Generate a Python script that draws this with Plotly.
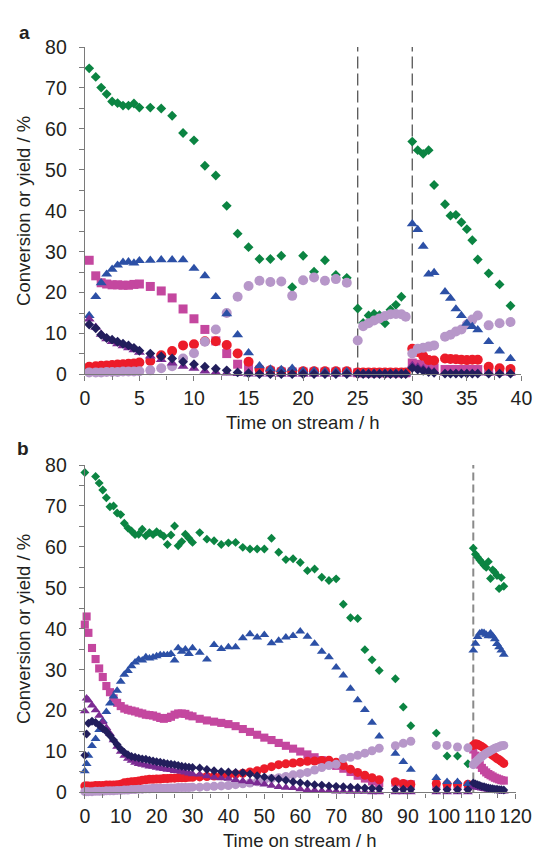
import plotly.graph_objects as go

W, H = 548, 859

# ---------------- panel a : run with two interruptions ----------------
time_a = [0.4, 1, 1.5, 2, 2.5, 3, 3.5, 4, 4.5, 5,
          6, 7, 8, 9, 10, 11, 12, 13, 14, 15, 16, 17, 18, 19, 20, 21, 22, 23, 24,
          25, 25.5, 26, 26.5, 27, 27.5, 28, 28.5, 29, 29.4,
          30, 30.5, 31, 31.5, 32, 33, 33.5, 34, 34.5, 35, 35.5, 36, 37, 38, 39]

conversion_a = [74.8, 72.7, 70.1, 68.5, 66.7, 66.3, 65.7, 65.7, 66.2, 65.2,
                65.2, 65.0, 63.2, 59.0, 57.2, 51.0, 48.6, 41.2, 34.4, 31.1, 28.2, 28.2, 29.0, 21.3, 29.0, 25.1, 27.9, 24.3, 23.6,
                16.1, 12.6, 14.4, 14.8, 14.5, 12.5, 15.8, 17.0, 19.0, None,
                56.9, 54.8, 53.9, 54.8, 46.3, 41.6, 38.8, 39.0, 37.2, 35.5, 32.8, 28.1, 24.7, 22.0, 16.8]

blue_a = [14.4, 19.0, 22.4, 24.5, 25.7, 26.7, 27.4, 27.5, 27.2, 27.8,
          27.9, 28.0, 28.0, 28.0, 25.9, 24.1, 19.0, 14.8, 9.7, 5.3, 2.1, 1.3, 1.2, 1.5, 0.8, 0.8, 0.7, 0.7, 0.7,
          0.3, 0.3, 0.3, 0.3, 0.3, 0.3, 0.3, 0.3, 0.3, 0.3,
          36.8, 35.4, 31.3, 24.5, 24.9, 20.2, 18.6, 16.0, 14.4, 12.5, 11.7, 10.9, 8.0, 5.7, 3.9]

magenta_a = [27.9, 24.1, 22.4, 22.1, 21.9, 21.9, 21.8, 21.8, 22.0, 22.1,
             21.5, 20.4, 18.7, 16.0, 13.6, 11.0, 8.2, 5.1, 2.5, 1.5, 1.0, 0.8, 0.6, 0.6, 0.6, 0.6, 0.6, 0.6, 0.6,
             0.4, 0.4, 0.4, 0.4, 0.4, 0.4, 0.4, 0.4, 0.4, 0.4,
             2.8, 2.5, 2.2, 2.0, 1.6, 1.2, 1.2, 1.2, 1.2, 1.2, 1.2, 1.2, 0.8, 0.8, 0.8]

red_a = [1.9, 2.0, 2.1, 2.2, 2.3, 2.4, 2.5, 2.6, 2.7, 2.9,
         3.3, 4.7, 5.7, 7.1, 7.4, 8.1, 8.1, 7.2, 5.1, 3.1, 1.3, 1.0, 0.8, 0.8, 0.8, 0.8, 0.8, 0.8, 0.8,
         0.5, 0.5, 0.5, 0.5, 0.5, 0.5, 0.5, 0.5, 0.5, 0.5,
         6.3, 5.5, 4.5, 3.5, 3.4, 3.9, 3.8, 3.7, 3.6, 3.5, 3.6, 3.6, 1.9, 1.5, 1.3]

lilac_a = [0.5, 0.5, 0.5, 0.6, 0.6, 0.6, 0.7, 0.7, 0.7, 0.8,
           1.0, 1.5, 2.0, 3.9, 5.2, 8.0, 11.0, 15.0, 19.0, 21.6, 22.9, 22.6, 22.7, 19.2, 23.0, 23.7, 22.9, 23.3, 22.4,
           8.3, 11.8, 12.5, 13.2, 13.7, 14.3, 14.7, 14.8, 14.7, 14.1,
           5.1, 6.3, 6.5, 6.8, 7.1, 9.2, 9.7, 10.5, 11.0, 12.2, 13.4, 14.4, 12.0, 12.5, 12.8]

navy_a = [12.2, 11.3, 9.7, 8.9, 8.5, 8.0, 7.5, 7.1, 6.5, 5.8,
          5.1, 4.4, 3.9, 3.1, 2.5, 1.9, 1.4, 1.0, 0.5, 0.3, 0.1, 0.1, 0.1, 0.1, 0.1, 0.1, 0.1, 0.1, 0.1,
          0.1, 0.1, 0.1, 0.1, 0.1, 0.1, 0.1, 0.1, 0.1, 0.1,
          1.6, 1.2, 0.9, 0.6, 0.4, 0.2, 0.2, 0.2, 0.2, 0.2, 0.2, 0.2, 0.2, 0.2, 0.2]

purple_a = [13.5, 11.5, 9.8, 8.7, 8.0, 7.5, 7.0, 6.5, 6.0, 5.4,
            4.5, 3.6, 2.8, 2.0, 1.5, 0.8, 0.5, 0.3, 0.2, 0.1, 0.1, 0.1, 0.1, 0.1, 0.1, 0.1, 0.1, 0.1, 0.1,
            0.1, 0.1, 0.1, 0.1, 0.1, 0.1, 0.1, 0.1, 0.1, 0.1,
            2.2, 1.8, 1.4, 1.0, 0.7, 0.3, 0.3, 0.3, 0.3, 0.3, 0.3, 0.3, 0.3, 0.3, 0.3]

events_a = [25, 30]

# ---------------- panel b : long run with one interruption ----------------
time_b = [0, 0.5, 1, 2, 3, 4, 5, 6, 7, 8, 9, 10, 11, 12, 13, 14, 15, 16, 17, 18, 19, 20,
          21, 22, 23, 24, 25, 26, 27, 28, 29, 30,
          32, 34, 36, 38, 40, 42, 44, 46, 48, 50, 52, 54, 56, 58, 60, 62, 64, 66, 68, 70,
          72, 74, 76, 78, 80, 82,
          86.5, 88.7, 90.8,
          97.9, 100.9, 103.8, 106.7,
          108.2, 108.8, 109.4, 110.0, 110.6, 111.2, 111.8, 112.4, 113.0, 113.6, 114.2, 114.8, 115.4, 116.0, 116.7]

conversion_b = [78.2, None, None, None, 77.2, 75.6, 73.9, 72.0, 69.8, 70.0, 68.3, 67.9, 65.8, 64.6, 63.9, 63.0,
                63.1, 64.3, 62.7, 63.5, 63.0, 63.7, 63.2, 62.6, 60.6, 62.9, 65.1, 60.3, 61.3, 63.1, 62.1, 61.1,
                63.5, 61.9, 61.5, 60.6, 61.0, 61.1, 59.9, 59.5, 59.5, 59.5, 62.1, 58.7, 56.9, 57.1, 56.2, 54.2,
                54.6, 52.6, 51.8, 52.2, 46.0, 42.7, 42.5, 34.9, 32.4, 29.8,
                27.8, 20.9, 16.3,
                14.5, 8.9, 8.9, 7.0,
                59.7, 58.2, 57.5, 56.8, 56.2, 55.5, 55.0, 56.4, 52.3, 54.4, 53.8, 53.0, 49.8, 52.5, 50.4]

blue_b = [5.2, 7.0, 9.0, 11.4, 13.1, 15.3, 17.5, 19.7, 21.8, 23.5, 24.9, 27.1, 28.8, 29.7, 30.9, 31.8,
          32.5, 32.3, 33.1, 32.8, 33.0, 33.3, 33.6, 33.6, 33.6, 33.9, 32.3, 35.3, 34.4, 35.0, 33.9, 35.3,
          34.2, 32.5, 36.1, 35.1, 35.5, 35.5, 37.7, 38.7, 37.9, 38.5, 36.5, 37.1, 37.9, 38.3, 39.4, 38.1,
          36.4, 34.4, 33.1, 30.6, 28.6, 25.4, 22.6, 20.2, 17.1, 13.7,
          9.5, 7.5, 5.6,
          3.6, 2.6, 2.6, 2.1,
          34.7, 36.4, 38.0, 38.9, 39.1, 39.0, 38.6, 38.2, 38.9, 38.2, 37.5, 36.3, 35.5, 34.7, 33.7]

magenta_b = [41.0, 43.0, 39.0, 35.3, 32.6, 30.3, 28.2, 26.0, 24.5, 23.0, 21.9, 21.1, 20.5, 20.2, 20.0, 19.8,
             19.5, 19.3, 19.0, 18.9, 18.8, 18.5, 18.2, 18.0, 18.2, 18.5, 19.0, 19.3, 19.3, 19.2, 18.8, 18.6,
             18.0, 17.6, 17.3, 17.0, 16.7, 16.2, 15.5, 14.8, 14.1, 13.4, 12.8, 12.1, 11.4, 10.7, 10.0, 9.3,
             8.6, 7.9, 7.2, 6.5, 5.8, 5.0, 4.1, 3.4, 2.7, 2.3,
             2.4, 2.1, 2.0,
             1.6, 1.5, 1.5, 1.5,
             10.5, 9.0, 7.8, 6.8, 6.0, 5.4, 4.9, 4.5, 4.2, 3.9, 3.6, 3.4, 3.2, 3.0, 2.9]

red_b = [1.6, 1.6, 1.6, 1.6, 1.7, 1.7, 1.7, 1.8, 1.8, 1.8, 1.9, 2.0, 2.4, 2.5, 2.6, 2.7,
         2.8, 3.0, 3.1, 3.2, 3.2, 3.3, 3.3, 3.4, 3.4, 3.5, 3.5, 3.6, 3.6, 3.6, 3.7, 3.7,
         3.8, 3.9, 4.0, 4.1, 4.3, 4.5, 4.7, 5.0, 5.3, 5.8, 6.3, 6.8, 7.0, 7.2, 7.4, 7.6,
         7.7, 7.8, 7.9, 7.4, 6.6, 5.7, 4.9, 4.2, 3.6, 3.1,
         2.6, 2.2, 2.0,
         2.2, 2.0, 2.0, 2.0,
         11.5, 11.9, 11.8, 11.5, 11.2, 10.8, 10.3, 9.9, 9.5, 9.1, 8.7, 8.3, 8.0, 7.6, 7.1]

lilac_b = [0.2, 0.2, 0.2, 0.2, 0.3, 0.3, 0.3, 0.4, 0.4, 0.4, 0.5, 0.5, 0.6, 0.6, 0.7, 0.7,
           0.8, 0.8, 0.9, 0.9, 1.0, 1.0, 1.0, 1.0, 1.1, 1.1, 1.1, 1.2, 1.2, 1.2, 1.2, 1.3,
           1.3, 1.4, 1.5, 1.6, 1.7, 1.9, 2.1, 2.3, 2.6, 3.0, 3.4, 3.6, 3.9, 4.3, 4.6, 4.9,
           5.5, 6.1, 6.6, 6.9, 8.3, 8.6, 9.1, 9.6, 10.2, 10.8,
           11.4, 12.0, 12.5,
           11.5, 11.5, 11.1, 10.9,
           6.8, 7.4, 7.9, 8.4, 8.8, 9.2, 9.6, 9.9, 10.2, 10.5, 10.8, 11.0, 11.2, 11.4, 11.5]

navy_b = [9.1, 14.3, 16.9, 17.4, 17.1, 16.4, 15.6, 14.9, 13.9, 12.8, 11.7, 10.6, 9.8, 9.2, 8.8, 8.6,
          8.4, 8.2, 8.1, 7.9, 7.7, 7.5, 7.4, 7.2, 7.0, 6.9, 6.8, 6.6, 6.4, 6.3, 6.2, 6.1,
          6.0, 5.6, 5.3, 5.1, 5.0, 4.9, 4.8, 4.5, 4.1, 3.8, 3.5, 3.3, 3.0, 2.6, 2.4, 2.1,
          1.9, 1.8, 1.6, 1.5, 1.4, 1.3, 1.2, 1.1, 1.0, 0.9,
          0.8, 0.8, 0.8,
          0.7, 0.7, 0.7, 0.7,
          2.3, 2.1, 1.9, 1.7, 1.5, 1.4, 1.2, 1.1, 1.0, 0.9, 0.8, 0.8, 0.7, 0.7, 0.6]

purple_b = [19.9, 23.0, 22.5, 21.3, 20.1, 18.8, 17.2, 15.8, 14.4, 12.8, 11.2, 10.0, 9.0, 8.3, 7.8, 7.3,
            7.0, 6.8, 6.6, 6.4, 6.3, 6.1, 5.9, 5.8, 5.6, 5.5, 5.3, 5.2, 5.1, 4.9, 4.7, 4.5,
            4.4, 4.0, 3.7, 3.5, 3.4, 3.1, 2.8, 2.6, 2.3, 2.0, 1.7, 1.4, 1.2, 1.1, 0.8, 0.6,
            0.5, 0.4, 0.4, 0.3, 0.3, 0.2, 0.2, 0.2, 0.1, 0.1,
            0.1, 0.1, 0.1,
            0.1, 0.1, 0.1, 0.1,
            1.6, 1.4, 1.2, 1.1, 1.0, 0.9, 0.8, 0.7, 0.6, 0.5, 0.5, 0.4, 0.4, 0.3, 0.3]

events_b = [108.2]

# ---------------- styling ----------------
FONT = "Liberation Sans, Arial, Helvetica, sans-serif"
TEXT = "#231f20"
AXIS = "#7a7a7a"

# drawing order: later entries sit on top
styles = [
    ("conversion", "diamond", "#0b8442", 7.6),
    ("magenta", "square", "#c4479f", 9),
    ("red", "circle", "#ec1c2a", 10),
    ("lilac", "circle", "#b797c9", 10),
    ("blue", "triangle-up", "#2c50a6", 9.6),
    ("purple", "triangle-up", "#7b2b93", 9.6),
    ("navy", "diamond", "#221e5c", 7.6),
]

panel_a = {"conversion": conversion_a, "magenta": magenta_a, "red": red_a, "lilac": lilac_a,
           "blue": blue_a, "purple": purple_a, "navy": navy_a}
panel_b = {"conversion": conversion_b, "magenta": magenta_b, "red": red_b, "lilac": lilac_b,
           "blue": blue_b, "purple": purple_b, "navy": navy_b}

fig = go.Figure()

for name, symbol, color, size in styles:
    fig.add_trace(go.Scatter(
        x=time_a, y=panel_a[name], mode="markers", name=name, xaxis="x", yaxis="y",
        cliponaxis=False, showlegend=False,
        marker=dict(symbol=symbol, color=color, size=size, line=dict(width=0))))
for name, symbol, color, size in styles:
    fig.add_trace(go.Scatter(
        x=time_b, y=panel_b[name], mode="markers", name=name, xaxis="x2", yaxis="y2",
        cliponaxis=False, showlegend=False,
        marker=dict(symbol=symbol, color=color, size=size * 0.9, line=dict(width=0))))


def px_x(p):
    return p / W


def px_y(p):
    return 1 - p / H


axis_common = dict(
    showline=True, linecolor=AXIS, linewidth=1.2,
    ticks="outside", ticklen=5, tickwidth=1.2, tickcolor=AXIS,
    showgrid=False, zeroline=False, mirror=False,
    tickfont=dict(family=FONT, size=19.5, color=TEXT),
)

fig.update_layout(
    width=W, height=H,
    margin=dict(l=0, r=0, t=0, b=0),
    paper_bgcolor="white", plot_bgcolor="white",
    xaxis=dict(domain=[px_x(83), px_x(537)], range=[0, 40], anchor="y",
               tick0=0, dtick=5, ticklabelstandoff=1,
               minor=dict(dtick=2.5, ticks="outside", ticklen=4, tickcolor=AXIS, tickwidth=1.2),
               **axis_common),
    yaxis=dict(domain=[px_y(373), px_y(37)], range=[0, 80], anchor="x",
               tick0=0, dtick=10, ticklabelstandoff=8,
               minor=dict(dtick=5, ticks="outside", ticklen=5, tickcolor=AXIS, tickwidth=1.2),
               **axis_common),
    xaxis2=dict(domain=[px_x(83), px_x(531)], range=[0, 120], anchor="y2",
                tick0=0, dtick=10, ticklabelstandoff=1,
                minor=dict(dtick=5, ticks="outside", ticklen=4, tickcolor=AXIS, tickwidth=1.2),
                **axis_common),
    yaxis2=dict(domain=[px_y(802), px_y(466)], range=[0, 80], anchor="x2",
                tick0=0, dtick=10, ticklabelstandoff=8,
                minor=dict(dtick=5, ticks="outside", ticklen=5, tickcolor=AXIS, tickwidth=1.2),
                **axis_common),
)

# vertical dashed markers at the interruptions
for t in events_a:
    fig.add_shape(type="line", xref="x", yref="y", x0=t, x1=t, y0=0, y1=80,
                  line=dict(color="#555555", width=1.3, dash="12px,5px"), layer="below")
for t in events_b:
    fig.add_shape(type="line", xref="x2", yref="y2", x0=t, x1=t, y0=0, y1=80,
                  line=dict(color="#8a8a8a", width=2, dash="8px,4px"), layer="below")

title_font = dict(family=FONT, size=18.5, color=TEXT)
annotations = [
    dict(text="<b>a</b>", x=px_x(20), y=px_y(22), font=dict(family=FONT, size=19, color=TEXT)),
    dict(text="<b>b</b>", x=px_x(19), y=px_y(449), font=dict(family=FONT, size=19, color=TEXT)),
    dict(text="Conversion or yield / %", x=px_x(20), y=px_y(205), textangle=-90, font=title_font),
    dict(text="Conversion or yield / %", x=px_x(20), y=px_y(634), textangle=-90, font=title_font),
    dict(text="Time on stream / h", x=px_x(310), y=px_y(422), font=title_font),
    dict(text="Time on stream / h", x=px_x(307), y=px_y(851), font=title_font),
]
for a in annotations:
    a.update(xref="paper", yref="paper", showarrow=False, xanchor="center", yanchor="middle")
fig.update_layout(annotations=annotations)

fig.write_html("out.html")
